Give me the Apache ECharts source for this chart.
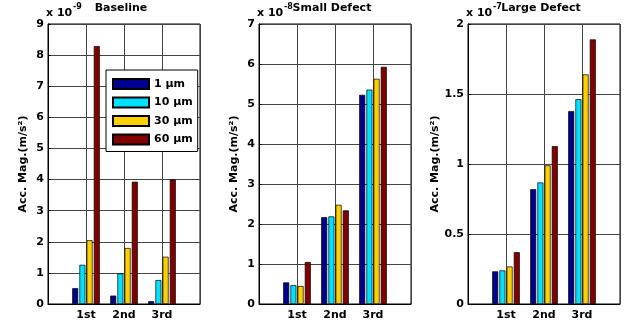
<!DOCTYPE html>
<html>
<head>
<meta charset="utf-8">
<script src="https://cdn.jsdelivr.net/npm/echarts@6/dist/echarts.min.js"></script>
<style>
  html, body { margin: 0; padding: 0; background: #fff; }
  #chart { width: 633px; height: 331px; }
</style>
</head>
<body>
<div id="chart"></div>
<script>
// categories and series
const categories = ['1st', '2nd', '3rd']
const seriesNames = ['1 μm', '10 μm', '30 μm', '60 μm']
const barColors = ['#00008f', '#00e1ff', '#ffd000', '#800000']

// values per panel, one row per series (1, 10, 30, 60 um), in units of the axis exponent
const baselineValues = [
  [0.51, 0.27, 0.09],
  [1.26, 0.98, 0.77],
  [2.05, 1.80, 1.52],
  [8.29, 3.93, 4.00]
]
const smallDefectValues = [
  [0.54, 2.17, 5.23],
  [0.47, 2.19, 5.36],
  [0.45, 2.48, 5.63],
  [1.05, 2.34, 5.93]
]
const largeDefectValues = [
  [0.233, 0.820, 1.378],
  [0.240, 0.868, 1.463],
  [0.268, 0.990, 1.640],
  [0.370, 1.128, 1.890]
]

// panel titles, exponents and y axis ranges
const panelTitles = ['Baseline', 'Small Defect', 'Large Defect']
const panelExponents = ['-9', '-8', '-7']
const yMax = [9, 7, 2]
const yInterval = [1, 1, 0.5]
const panelValues = [baselineValues, smallDefectValues, largeDefectValues]

const gridLeft = [48, 259, 468]
const gridWidth = 152
const nameGaps = [19, 19, 25]

const font = 'DejaVu Sans, sans-serif'
const chart = echarts.init(document.getElementById('chart'))

const grids = [], xAxes = [], yAxes = [], series = [], titles = []
panelValues.forEach((vals, p) => {
  grids.push({
    left: gridLeft[p], top: 24, width: gridWidth, height: 280,
    show: true, borderColor: '#000', borderWidth: 1, backgroundColor: '#fff'
  })
  xAxes.push({
    type: 'category',
    gridIndex: p,
    data: [''].concat(categories, ['']),
    boundaryGap: false,
    axisLine: { lineStyle: { color: '#000', width: 1 } },
    axisTick: { show: false },
    axisLabel: { interval: 0, color: '#000', fontWeight: 'bold', fontSize: 11, fontFamily: font, margin: 6 },
    splitLine: { show: true, lineStyle: { color: '#444', width: 1 } }
  })
  yAxes.push({
    type: 'value',
    gridIndex: p,
    min: 0,
    max: yMax[p],
    interval: yInterval[p],
    name: 'Acc. Mag.(m/s²)',
    nameLocation: 'middle',
    nameGap: nameGaps[p],
    nameTextStyle: { color: '#000', fontWeight: 'bold', fontSize: 11, fontFamily: font },
    axisLine: { show: true, lineStyle: { color: '#000', width: 1 } },
    axisTick: { show: true, inside: true, length: 3, lineStyle: { color: '#000' } },
    axisLabel: { color: '#000', fontWeight: 'bold', fontSize: 11, fontFamily: font, margin: 4 },
    splitLine: { show: true, lineStyle: { color: '#444', width: 1 } }
  })
  vals.forEach((row, s) => {
    series.push({
      name: seriesNames[s],
      type: 'bar',
      xAxisIndex: p,
      yAxisIndex: p,
      data: [null].concat(row, [null]),
      barWidth: 6,
      barGap: '20%',
      itemStyle: { color: barColors[s], borderColor: '#000', borderWidth: 0.7 },
      animation: false
    })
  })
  // "x 10" with the exponent raised
  titles.push({
    left: gridLeft[p] - 2,
    top: 8,
    padding: 0,
    text: 'x 10',
    textStyle: { fontSize: 11, fontWeight: 'bold', fontFamily: font, color: '#000' }
  })
  titles.push({
    left: gridLeft[p] + 25,
    top: 3,
    padding: 0,
    text: panelExponents[p],
    textStyle: { fontSize: 8, fontWeight: 'bold', fontFamily: font, color: '#000' }
  })
  titles.push({
    left: gridLeft[p] + gridWidth / 2 - 3,
    top: 3,
    padding: 0,
    textAlign: 'center',
    text: panelTitles[p],
    textStyle: { fontSize: 11, fontWeight: 'bold', fontFamily: font, color: '#000' }
  })
})

chart.setOption({
  animation: false,
  title: titles,
  legend: {
    data: seriesNames,
    icon: 'rect',
    orient: 'vertical',
    left: 106,
    top: 70,
    padding: [8, 5, 6, 6],
    itemWidth: 36,
    itemHeight: 10,
    itemGap: 6.5,
    itemTextGap: 4,
    backgroundColor: '#fff',
    borderColor: '#000',
    borderWidth: 1,
    textStyle: { color: '#000', fontWeight: 'bold', fontSize: 11, fontFamily: font, lineHeight: 10 }
  },
  grid: grids,
  xAxis: xAxes,
  yAxis: yAxes,
  series: series
})
</script>
</body>
</html>
